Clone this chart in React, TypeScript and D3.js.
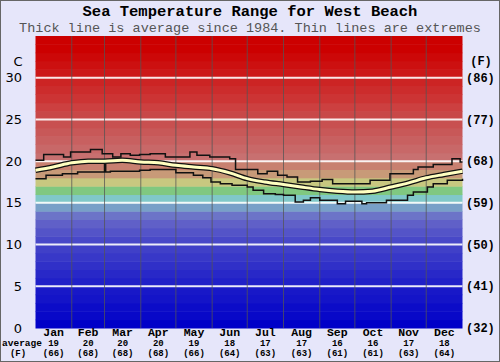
import React from "react";
import * as d3 from "d3";

const W = 500;
const H = 362;

const title = "Sea Temperature Range for West Beach";
const subtitle = "Thick line is average since 1984. Thin lines are extremes";

const months = ["Jan", "Feb", "Mar", "Apr", "May", "Jun", "Jul", "Aug", "Sep", "Oct", "Nov", "Dec"];
const monthDays = [31, 28, 31, 30, 31, 30, 31, 31, 30, 31, 30, 31];
const monthAvgC = [19, 20, 20, 20, 19, 18, 17, 17, 16, 16, 17, 18];
const monthAvgF = [66, 68, 68, 68, 66, 64, 63, 63, 61, 61, 63, 64];

const cTicks = [0, 5, 10, 15, 20, 25, 30];
const fTickLabels = ["(32)", "(41)", "(50)", "(59)", "(68)", "(77)", "(86)"];

// average line: day of year, temperature C
const avgDays = [0, 15, 31, 45, 59, 74, 90, 105, 120, 135, 151, 166, 181, 196, 212, 227, 243, 258, 273, 288, 304, 319, 334, 349, 365];
const avgTemps = [18.9, 19.3, 19.8, 20.0, 20.0, 20.1, 19.9, 19.8, 19.5, 19.3, 19.1, 18.6, 17.9, 17.5, 17.2, 16.9, 16.6, 16.4, 16.3, 16.4, 16.9, 17.4, 18.0, 18.4, 18.8];

// maximum extremes (step line)
const maxDays = [0, 7, 24, 30, 47, 57, 66, 73, 81, 89, 98, 111, 132, 138, 149, 166, 171, 190, 198, 207, 215, 224, 235, 245, 254, 286, 303, 323, 327, 340, 356, 363, 365];
const maxTemps = [20.1, 20.8, 20.5, 21.1, 21.4, 20.9, 20.5, 20.9, 20.7, 20.8, 20.9, 20.5, 21.1, 20.7, 20.5, 20.3, 19.0, 18.5, 18.8, 18.3, 18.1, 17.5, 17.6, 17.8, 17.3, 17.7, 18.5, 19.0, 19.3, 19.6, 20.3, 19.9, 19.9];

// minimum extremes (step line)
const minDays = [0, 9, 23, 36, 59, 60, 64, 89, 98, 120, 135, 143, 150, 158, 168, 181, 186, 195, 205, 212, 222, 229, 235, 243, 258, 265, 279, 283, 300, 318, 323, 335, 340, 352, 365];
const minTemps = [17.9, 18.3, 18.5, 18.7, 19.6, 18.7, 18.8, 18.9, 19.0, 18.6, 18.3, 18.0, 17.5, 17.3, 17.1, 16.9, 16.5, 16.1, 16.0, 15.9, 15.1, 15.3, 15.6, 15.3, 14.9, 15.2, 14.9, 15.0, 15.3, 15.9, 16.3, 16.9, 17.3, 17.7, 17.9];

// colour for each 1°C band from 0 to 35
const bandColors = [
  "#0000c8", "#0808c8", "#0c0cc8", "#1414c8", "#1818c8", "#2020c8", "#2828c8", "#3030c8", "#3838c8", "#4040c8",
  "#4848c8", "#5454c8", "#6060c8", "#6c74c8", "#78a0c8", "#80c8c8", "#80c880", "#c8c880", "#c89a78", "#c88070",
  "#c87070", "#c86868", "#c86060", "#c85858", "#c85050", "#c84848", "#cc4040", "#cc3434", "#cc2c2c", "#cc2424",
  "#cc1818", "#cc1010", "#cc0808", "#cc0000", "#cc0000",
];

export default function App() {
  const left = 35.5;
  const right = 462.5;
  const top = 36;
  const bottom = 328;

  const x = d3.scaleLinear().domain([0, 365]).range([left, right]);
  const y = d3.scaleLinear().domain([0, 35]).range([bottom, top]);

  const cum = [0];
  monthDays.forEach((d) => cum.push(cum[cum.length - 1] + d));

  const avgLine = d3
    .line<number>()
    .x((_, i) => x(avgDays[i]))
    .y((v) => y(v))
    .curve(d3.curveMonotoneX);

  const stepLine = (days: number[]) =>
    d3
      .line<number>()
      .x((_, i) => x(days[i]))
      .y((v) => y(v))
      .curve(d3.curveStepAfter);

  const mono = "'Liberation Mono', 'Courier New', monospace";

  return (
    <svg
      width={W}
      height={H}
      style={{ position: "absolute", left: 0, top: 0, display: "block" }}
    >
      <rect x={0.5} y={0.5} width={W - 1} height={H - 1} fill="#e6e6fa" stroke="#666" />
      <text x={W / 2} y={15.5} textAnchor="middle" fontFamily={mono} fontWeight="bold" fontSize={15.5} fill="#000">
        {title}
      </text>
      <text x={W / 2} y={32} textAnchor="middle" fontFamily={mono} fontSize={13.5} fill="#555">
        {subtitle}
      </text>

      {bandColors.map((c, i) => (
        <rect key={i} x={left} y={y(i + 1)} width={right - left} height={y(i) - y(i + 1) + 0.5} fill={c} />
      ))}

      {cTicks.slice(1).map((t) => (
        <line key={t} x1={left} x2={right} y1={y(t)} y2={y(t)} stroke="#fff" strokeWidth={2} opacity={0.9} />
      ))}

      {cum.slice(1, 12).map((d, i) => (
        <line key={i} x1={x(d)} x2={x(d)} y1={top} y2={bottom} stroke="#555" strokeWidth={1} opacity={0.75} />
      ))}

      <path d={stepLine(maxDays)(maxTemps) || ""} fill="none" stroke="#111" strokeWidth={1.5} />
      <path d={stepLine(minDays)(minTemps) || ""} fill="none" stroke="#111" strokeWidth={1.5} />
      <path d={avgLine(avgTemps) || ""} fill="none" stroke="#111" strokeWidth={5.5} />
      <path d={avgLine(avgTemps) || ""} fill="none" stroke="#ffffc0" strokeWidth={3} />

      {cTicks.map((t) => (
        <text key={t} x={22} y={y(t)} dy="0.35em" textAnchor="end" fontFamily="'DejaVu Sans', sans-serif" fontSize={13} fill="#000">
          {t}
        </text>
      ))}
      <text x={18} y={61} dy="0.35em" textAnchor="middle" fontFamily="'DejaVu Sans', sans-serif" fontSize={13} fill="#000">
        C
      </text>

      {fTickLabels.map((t, i) => (
        <text key={t} x={466} y={y(cTicks[i])} dy="0.35em" fontFamily={mono} fontWeight="bold" fontSize={12} fill="#000">
          {t}
        </text>
      ))}
      <text x={481} y={61} dy="0.35em" textAnchor="middle" fontFamily={mono} fontWeight="bold" fontSize={12} fill="#000">
        (F)
      </text>

      {months.map((m, i) => {
        const cx = x((cum[i] + cum[i + 1]) / 2);
        return (
          <g key={m}>
            <text x={cx} y={336} textAnchor="middle" fontFamily={mono} fontWeight="bold" fontSize={11.5} fill="#000">
              {m}
            </text>
            <text x={cx} y={346} textAnchor="middle" fontFamily={mono} fontWeight="bold" fontSize={9} fill="#000">
              {monthAvgC[i]}
            </text>
            <text x={cx} y={355.5} textAnchor="middle" fontFamily={mono} fontWeight="bold" fontSize={9} fill="#000">
              {`(${monthAvgF[i]})`}
            </text>
          </g>
        );
      })}
      <text x={22} y={346} textAnchor="middle" fontFamily={mono} fontWeight="bold" fontSize={9.5} fill="#000">
        average
      </text>
      <text x={18} y={355.5} textAnchor="middle" fontFamily={mono} fontWeight="bold" fontSize={9} fill="#000">
        (F)
      </text>
    </svg>
  );
}
